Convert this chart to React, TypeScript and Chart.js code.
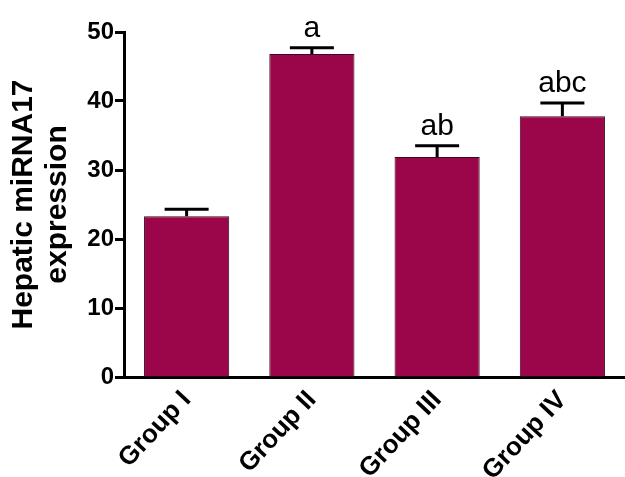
import React, { useEffect, useRef } from "react";
import { Chart, registerables } from "chart.js";

Chart.register(...registerables);

const categories = ["Group I", "Group II", "Group III", "Group IV"];
const means = [23.3, 46.8, 31.9, 37.8];
const errors = [1.0, 0.9, 1.6, 1.9];
const letters = ["", "a", "ab", "abc"];
const yTicks = [0, 10, 20, 30, 40, 50];

const errorBarPlugin = {
  id: "errorBars",
  afterDatasetsDraw(chart: any) {
    const { ctx } = chart;
    const meta = chart.getDatasetMeta(0);
    const yScale = chart.scales.y;
    ctx.save();
    meta.data.forEach((bar: any, i: number) => {
      const x = bar.x;
      const yTop = yScale.getPixelForValue(means[i]);
      const yCap = yScale.getPixelForValue(means[i] + errors[i]);
      ctx.strokeStyle = "#000";
      ctx.lineWidth = 3;
      ctx.beginPath();
      ctx.moveTo(x, yTop);
      ctx.lineTo(x, yCap);
      ctx.moveTo(x - 22, yCap);
      ctx.lineTo(x + 22, yCap);
      ctx.stroke();
      if (letters[i]) {
        ctx.fillStyle = "#000";
        ctx.font = "30px Arial, 'Liberation Sans', sans-serif";
        ctx.textAlign = "center";
        ctx.textBaseline = "alphabetic";
        ctx.fillText(letters[i], x, yCap - 11);
      }
    });
    ctx.restore();
  },
};

export default function App() {
  const ref = useRef<HTMLCanvasElement>(null);
  useEffect(() => {
    if (!ref.current) return;
    const chart = new Chart(ref.current, {
      type: "bar",
      data: {
        labels: categories,
        datasets: [
          {
            data: means,
            backgroundColor: "#9B0549",
            borderColor: "#3a0a1c",
            borderWidth: 1,
            barPercentage: 0.68,
            categoryPercentage: 1,
          },
        ],
      },
      options: {
        responsive: false,
        animation: false,
        layout: { padding: { top: 32, right: 0, left: 0, bottom: 0 } },
        plugins: { legend: { display: false }, tooltip: { enabled: false } },
        scales: {
          x: {
            grid: { display: false },
            border: { display: true, color: "#000", width: 3 },
            ticks: {
              color: "#000",
              maxRotation: 47,
              minRotation: 47,
              padding: 0,
              font: { family: "Arial, 'Liberation Sans', sans-serif", size: 26, weight: "bold" },
            },
            afterFit(scale: any) {
              scale.height = 100;
            },
          },
          y: {
            min: 0,
            max: 50,
            afterBuildTicks(scale: any) {
              scale.ticks = yTicks.map((v) => ({ value: v }));
            },
            grid: {
              drawOnChartArea: false,
              drawTicks: true,
              tickLength: 9,
              tickWidth: 3,
              tickColor: "#000",
            },
            border: { display: true, color: "#000", width: 3 },
            ticks: {
              color: "#000",
              padding: 1,
              font: { family: "Arial, 'Liberation Sans', sans-serif", size: 24, weight: "bold" },
            },
            title: {
              display: true,
              text: ["Hepatic miRNA17", "expression"],
              color: "#000",
              padding: { top: 7, bottom: 0 },
              font: { family: "Arial, 'Liberation Sans', sans-serif", size: 30, weight: "bold", lineHeight: 1.12 },
            },
            afterFit(scale: any) {
              scale.width = 124;
            },
          },
        },
      },
      plugins: [errorBarPlugin],
    });
    return () => chart.destroy();
  }, []);
  return (
    <div style={{ position: "fixed", left: 0, top: 0, width: 625, height: 477, background: "#fff" }}>
      <canvas ref={ref} width={625} height={477} />
    </div>
  );
}
